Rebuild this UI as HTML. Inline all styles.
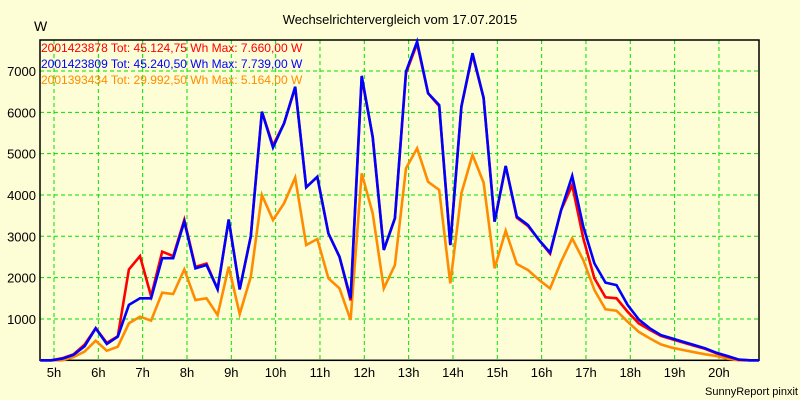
<!DOCTYPE html>
<html><head><meta charset="utf-8"><style>
body{margin:0;background:#fdfdd6;}
svg{display:block;font-family:"Liberation Sans",sans-serif;}
</style></head><body>
<svg id="chart" width="800" height="400" viewBox="0 0 800 400">
<rect x="0" y="0" width="800" height="400" fill="#fdfdd6"/>
<text x="400" y="24" text-anchor="middle" font-size="13" fill="#000">Wechselrichtervergleich vom 17.07.2015</text>
<text x="34" y="31" font-size="14" fill="#000">W</text>
<g id="grid"></g>
<g id="axes"></g>
<g id="series"></g>
<g font-size="12">
<text x="41" y="52" fill="#ff0000">2001423878 Tot: 45.124,75 Wh Max: 7.660,00 W</text>
<text x="41" y="68" fill="#0000ff">2001423809 Tot: 45.240,50 Wh Max: 7.739,00 W</text>
<text x="41" y="84" fill="#ff8c00">2001393434 Tot: 29.992,50 Wh Max: 5.164,00 W</text>
</g>
<text x="798" y="395" text-anchor="end" font-size="11" fill="#000">SunnyReport pinxit</text>
</svg>
<script>
const yTicks = [1000,2000,3000,4000,5000,6000,7000];
const xTickHours = [5,6,7,8,9,10,11,12,13,14,15,16,17,18,19,20];
const xTickLabels = ["5h","6h","7h","8h","9h","10h","11h","12h","13h","14h","15h","16h","17h","18h","19h","20h"];
const startHour = 4.69;
const stepHours = 0.25;
const seriesBlue = [0,0,40,130,340,775,395,570,1340,1500,1500,2470,2470,3355,2225,2305,1720,3410,1715,3000,6015,5150,5735,6620,4185,4440,3070,2505,1500,6880,5400,2670,3435,6985,7710,6460,6175,2790,6140,7430,6350,3355,4700,3475,3275,2910,2605,3635,4460,3235,2345,1880,1820,1340,990,775,610,530,450,370,290,185,105,20,0,0];
const seriesRed = [0,0,50,145,380,780,420,580,2200,2520,1550,2630,2520,3400,2260,2340,1720,3400,1715,3000,6015,5200,5735,6600,4185,4440,3070,2505,1450,6850,5400,2670,3435,6950,7660,6460,6150,2790,6140,7400,6350,3355,4700,3450,3250,2910,2580,3635,4240,2950,1985,1525,1500,1175,895,735,590,510,430,350,275,170,90,15,0,0];
const seriesOrange = [0,0,0,80,210,475,230,330,895,1055,960,1635,1605,2200,1460,1500,1095,2265,1120,2020,4000,3395,3800,4420,2790,2935,1985,1740,975,4525,3555,1740,2305,4645,5130,4320,4120,1860,4040,4970,4300,2225,3135,2330,2185,1945,1740,2385,2950,2425,1700,1235,1200,935,690,530,385,305,250,195,145,105,40,0,0,0];

const L=40,R=759,T=40,B=360.3;
const yMax=(B-T)/41.33*1000;
function yScale(v){return B-v/yMax*(B-T);}
function xHour(h){return 54+(h-5)*44.33;}
const NS="http://www.w3.org/2000/svg";
function mk(tag,attrs,parent){const e=document.createElementNS(NS,tag);for(const k in attrs)e.setAttribute(k,attrs[k]);parent.appendChild(e);return e;}
const grid=document.getElementById('grid'),axes=document.getElementById('axes'),series=document.getElementById('series');
yTicks.forEach(v=>{
  const y=yScale(v);
  const l=mk('line',{x1:L,x2:R,y1:y,y2:y,stroke:'#00e000','stroke-width':1,'stroke-dasharray':'4,3'},grid);
  
  
  const t=mk('text',{x:36,y:y+5,'text-anchor':'end','font-size':13,fill:'#000'},axes);
  
  
  t.textContent=v;
});
xTickHours.forEach((h,i)=>{
  const x=xHour(h);
  const l=mk('line',{x1:x,x2:x,y1:T,y2:B,stroke:'#00e000','stroke-width':1,'stroke-dasharray':'4,3'},grid);
  
  
  const t=mk('text',{x:x,y:377,'text-anchor':'middle','font-size':13,fill:'#000'},axes);
  
  
  t.textContent=xTickLabels[i];
});
const frame=mk('rect',{x:L,y:T,width:R-L,height:B-T,fill:'none',stroke:'#000','stroke-width':1.5},axes);


function drawLine(arr,color,name){
  const pts=arr.map((v,i)=>{let x=xHour(startHour+i*stepHours);x=Math.min(Math.max(x,L),R);return x.toFixed(1)+','+yScale(v).toFixed(1);}).join(' ');
  const p=mk('polyline',{points:pts,fill:'none',stroke:color,'stroke-width':2.6,'stroke-linejoin':'miter'},series);
  
  
}
drawLine(seriesOrange,'#ff8c00','line-2001393434');
drawLine(seriesRed,'#ff0000','line-2001423878');
drawLine(seriesBlue,'#0000ff','line-2001423809');
</script>
</body></html>
